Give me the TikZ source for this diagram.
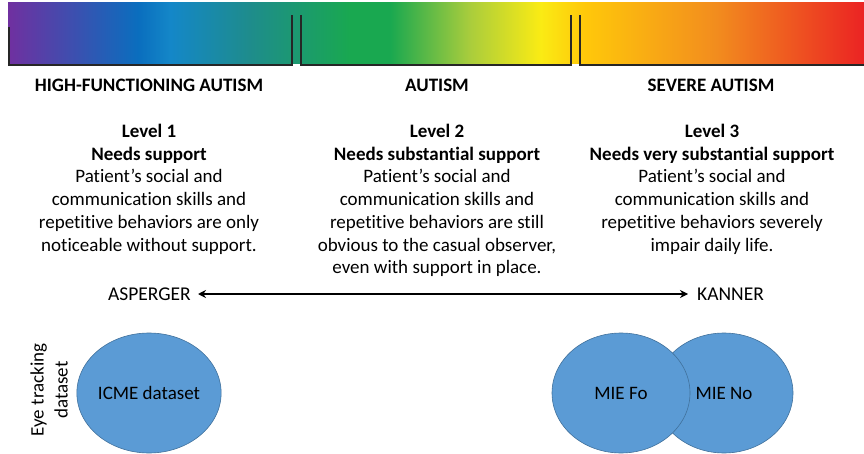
\documentclass[tikz,border=0pt]{standalone}
\usepackage{fontspec}
\setmainfont[Ligatures={NoCommon}]{Carlito}
\usetikzlibrary{arrows.meta, positioning, shapes.geometric}

\definecolor{specpurple}{RGB}{112,48,160}
\definecolor{specblue}{RGB}{10,110,190}
\definecolor{speclight}{RGB}{20,135,200}
\definecolor{specteal}{RGB}{30,140,140}
\definecolor{specgreen}{RGB}{25,168,80}
\definecolor{speclime}{RGB}{170,205,60}
\definecolor{specyellow}{RGB}{250,235,20}
\definecolor{specgold}{RGB}{255,200,10}
\definecolor{specorange}{RGB}{242,140,30}
\definecolor{specred}{RGB}{235,35,35}
\definecolor{setblue}{HTML}{5B9BD5}
\definecolor{setborder}{HTML}{41719C}

% spectrum for the top bar (25bp..75bp spans the path)
\pgfdeclarehorizontalshading{spectrum}{100bp}{%
  color(0bp)=(specpurple); color(25bp)=(specpurple);
  color(32.6bp)=(specblue); color(34.5bp)=(speclight);
  color(39.1bp)=(specteal); color(45bp)=(specgreen);
  color(47.3bp)=(specgreen); color(52bp)=(speclime);
  color(56.1bp)=(specyellow); color(58.7bp)=(specgold);
  color(66.4bp)=(specorange); color(75bp)=(specred);
  color(100bp)=(specred)}

\begin{document}
\begin{tikzpicture}[
    x=1pt, y=-1pt,
    head/.style={font=\fontsize{19}{22}\selectfont\bfseries, inner sep=0pt},
    desc/.style={align=center, anchor=north, inner sep=0pt, font=\fontsize{19}{22.7}\selectfont},
    side/.style={font=\fontsize{19.5}{22}\selectfont, inner sep=0pt},
    dataset/.style={ellipse, draw=setborder, fill=setblue, line width=0.6pt, minimum width=138pt, minimum height=120pt, inner sep=0pt, font=\fontsize{19}{22}\selectfont},
    arrow/.style={{Stealth[length=8pt,width=8pt]}-{Stealth[length=8pt,width=8pt]}, line width=2.2pt},
    edge/.style={line width=2.2pt, black!85},
]
    \useasboundingbox (0,0) rectangle (864,454);

    % Spectrum bar
    \shade[shading=spectrum] (8,3) rectangle (864,64);
    \draw[edge] (9,27) -- (9,65) -- (292,65) -- (292,15);
    \draw[edge] (301,15) -- (301,65) -- (571,65) -- (571,15);
    \draw[edge] (580,15) -- (580,65) -- (864,65);

    % Severity headings
    \node[head] (hfa) at (149,85) {HIGH-FUNCTIONING AUTISM};
    \node[head] (aut) at (437,85) {AUTISM};
    \node[head] (sev) at (711,85) {SEVERE AUTISM};

    % Levels
    \node[desc] (lvl1) at (149,124) {\textbf{Level 1}\\ \textbf{Needs support}\\ Patient’s social and\\ communication skills and\\ repetitive behaviors are only\\ noticeable without support.};
    \node[desc] (lvl2) at (437,124) {\textbf{Level 2}\\ \textbf{Needs substantial support}\\ Patient’s social and\\ communication skills and\\ repetitive behaviors are still\\ obvious to the casual observer,\\ even with support in place.};
    \node[desc] (lvl3) at (712,124) {\textbf{Level 3}\\ \textbf{Needs very substantial support}\\ Patient’s social and\\ communication skills and\\ repetitive behaviors severely\\ impair daily life.};

    % Asperger -- Kanner axis
    \node[side, anchor=east] (asp) at (191,294) {ASPERGER};
    \node[side, anchor=west] (kan) at (697,294) {KANNER};
    \draw[arrow, shorten <=7pt, shorten >=9pt] (asp) -- (kan);

    % Eye tracking datasets
    \node[rotate=90, align=center, inner sep=0pt, font=\fontsize{19}{24}\selectfont] (eye) at (49,390) {Eye tracking\\ dataset};
    \node[dataset] (icme) at (149,393) {ICME dataset};
    \node[dataset] (mieno) at (724,393) {MIE No};
    \node[dataset] (miefo) at (621,393) {MIE Fo};

\end{tikzpicture}
\end{document}
